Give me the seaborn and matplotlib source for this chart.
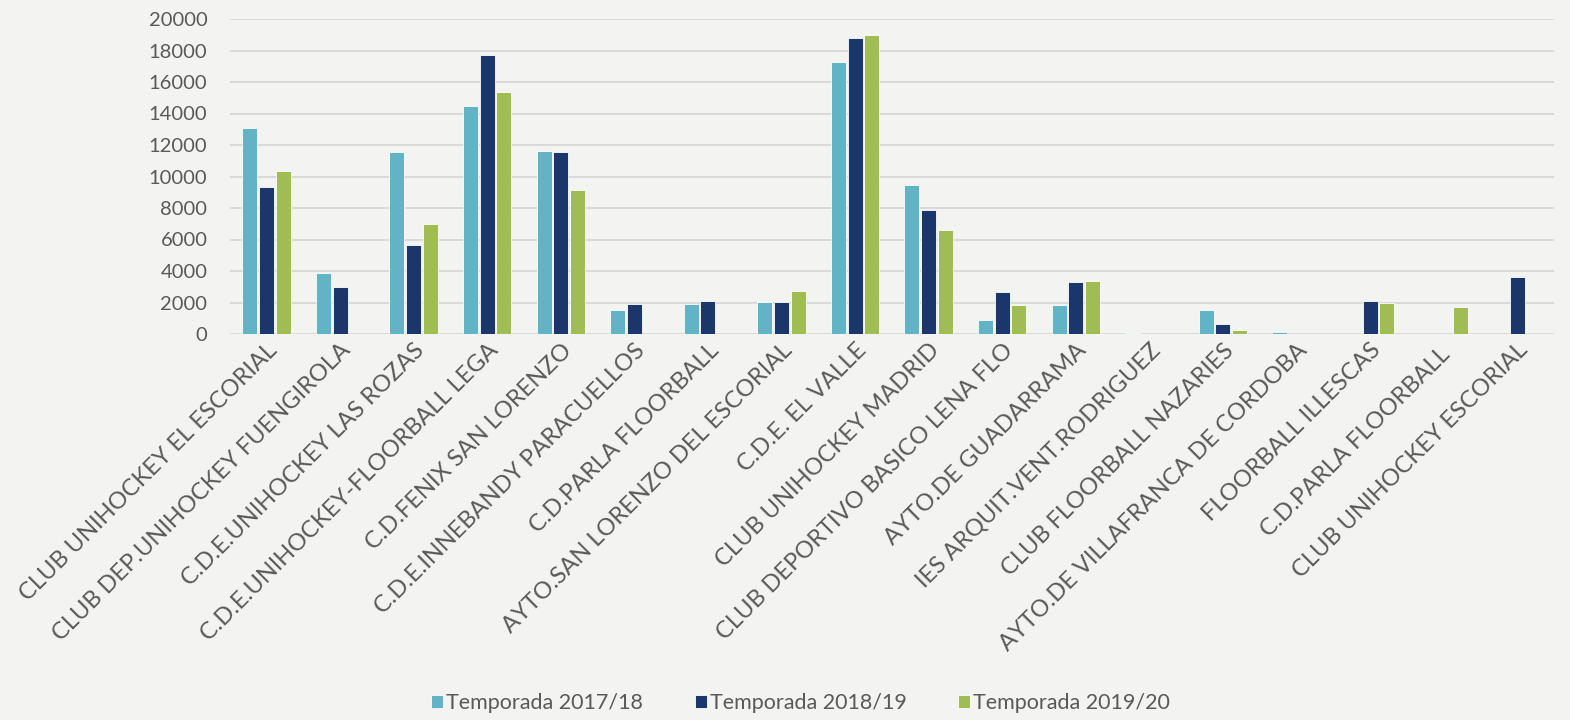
import matplotlib
matplotlib.use("Agg")
import matplotlib.pyplot as plt
import numpy as np
import pandas as pd
import seaborn as sns

clubs = [
    "CLUB UNIHOCKEY EL ESCORIAL",
    "CLUB DEP.UNIHOCKEY FUENGIROLA",
    "C.D.E.UNIHOCKEY LAS ROZAS",
    "C.D.E.UNIHOCKEY-FLOORBALL LEGA",
    "C.D.FENIX SAN LORENZO",
    "C.D.E.INNEBANDY PARACUELLOS",
    "C.D.PARLA FLOORBALL",
    "AYTO.SAN LORENZO DEL ESCORIAL",
    "C.D.E. EL VALLE",
    "CLUB UNIHOCKEY MADRID",
    "CLUB DEPORTIVO BASICO LENA FLO",
    "AYTO.DE GUADARRAMA",
    "IES ARQUIT.VENT.RODRIGUEZ",
    "CLUB FLOORBALL NAZARIES",
    "AYTO.DE VILLAFRANCA DE CORDOBA",
    "FLOORBALL ILLESCAS",
    "C.D.PARLA FLOORBALL ",
    "CLUB UNIHOCKEY ESCORIAL",
]
seasons = ["Temporada 2017/18", "Temporada 2018/19", "Temporada 2019/20"]
nan = np.nan
t2017 = [13100, 3850, 11550, 14450, 11650, 1500, 1900, 2050, 17300, 9480, 870, 1850, 60, 1500, 110, nan, nan, nan]
t2018 = [9350, 2980, 5620, 17730, 11550, 1900, 2120, 2060, 18770, 7900, 2660, 3280, nan, 640, nan, 2120, nan, 3650]
t2019 = [10380, nan, 7000, 15390, 9170, nan, nan, 2700, 18960, 6590, 1850, 3360, nan, 260, nan, 1970, 1700, nan]
colors = ["#63b3c6", "#1b366b", "#a0bc55"]

df = pd.DataFrame({"club": clubs, seasons[0]: t2017, seasons[1]: t2018, seasons[2]: t2019})
long = df.melt(id_vars="club", var_name="season", value_name="value").dropna()

sns.set_theme(style="white")
plt.rcParams["font.family"] = ["Lato", "DejaVu Sans"]
bg = "#f3f3f1"
text_color = "#595959"

fig = plt.figure(figsize=(15.7, 7.2), dpi=100, facecolor=bg)
ax = fig.add_axes([229.7 / 1570, 1 - 334 / 720, (1554 - 229.7) / 1570, (334 - 19) / 720])
ax.set_facecolor(bg)

sns.barplot(
    data=long, x="club", y="value", hue="season",
    order=clubs, hue_order=seasons, palette=colors, saturation=1,
    width=0.68, gap=0.1, edgecolor="white", linewidth=0.6,
    errorbar=None, ax=ax,
)

ax.set_ylim(0, 20000)
ax.set_xlim(-0.5, len(clubs) - 0.5)
ax.set_yticks(range(0, 20001, 2000))
ax.yaxis.grid(True, color="#d9d9d9", linewidth=1.4)
ax.set_axisbelow(True)
for s in ax.spines.values():
    s.set_visible(False)
ax.set_xlabel("")
ax.set_ylabel("")
ax.tick_params(axis="y", labelsize=14.5, colors=text_color, length=0, pad=16)
ax.tick_params(axis="x", labelsize=17, colors=text_color, length=0, pad=4)
plt.setp(ax.get_xticklabels(), rotation=45, ha="right", rotation_mode="anchor")

handles, labels = ax.get_legend_handles_labels()
ax.get_legend().remove()
fig.legend(
    handles, labels, loc="center", bbox_to_anchor=(0.51, 1 - 703 / 720), ncol=3,
    frameon=False, fontsize=15.5, handlelength=0.55, handleheight=0.55,
    handletextpad=0.15, columnspacing=2.4, labelcolor=text_color,
)

fig.savefig("out.png", dpi=100, facecolor=bg)
